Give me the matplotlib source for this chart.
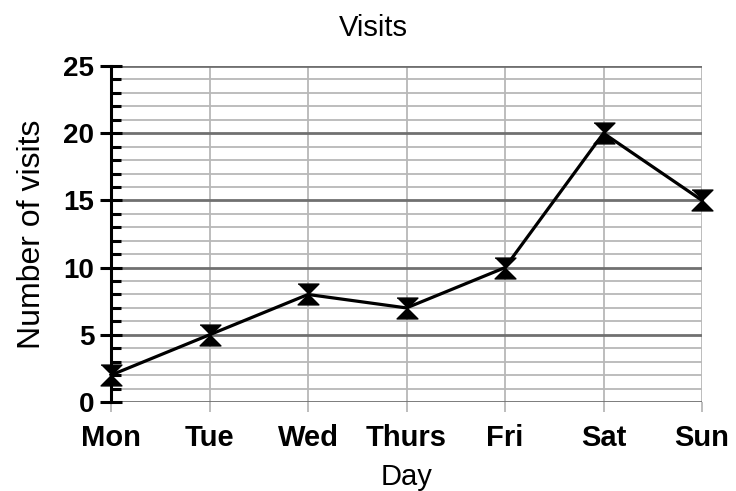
import matplotlib
matplotlib.use("Agg")
import matplotlib.pyplot as plt
from matplotlib.ticker import MultipleLocator

days = ["Mon", "Tue", "Wed", "Thurs", "Fri", "Sat", "Sun"]
visits = [2, 5, 8, 7, 10, 20, 15]
y_ticks = [0, 5, 10, 15, 20, 25]

plt.rcParams["font.family"] = ["Liberation Sans", "DejaVu Sans"]

fig = plt.figure(figsize=(7.36, 4.91), dpi=100)
ax = fig.add_axes([111 / 736, 1 - 402 / 491, (702 - 111) / 736, (402 - 66) / 491])

x = list(range(len(days)))

# hourglass marker: two triangles meeting at the data point
hourglass = [(-1, 1), (1, 1), (0, 0), (1, -1), (-1, -1), (0, 0)]
ax.plot(x, visits, color="black", linewidth=2.3, marker=hourglass,
        markersize=15, markerfacecolor="black", markeredgecolor="black",
        zorder=5, clip_on=False)

ax.set_xlim(0, len(days) - 1)
ax.set_ylim(0, 25)
ax.set_xticks(x)
ax.set_xticklabels(days, fontsize=21, fontweight="bold")
ax.set_yticks(y_ticks)
ax.set_yticklabels([str(v) for v in y_ticks], fontsize=20, fontweight="bold")
ax.yaxis.set_minor_locator(MultipleLocator(1))

# grid
ax.grid(True, which="major", axis="y", color="#707070", linewidth=2.0, zorder=1)
ax.grid(True, which="minor", axis="y", color="#b8b8b8", linewidth=1.3, zorder=0)
ax.grid(True, which="major", axis="x", color="#b8b8b8", linewidth=1.3, zorder=0)
ax.set_axisbelow(True)

for side in ["top", "right", "bottom"]:
    ax.spines[side].set_visible(False)
ax.spines["left"].set_linewidth(2.2)
ax.spines["left"].set_color("black")

ax.tick_params(axis="y", which="major", direction="inout", length=16, width=2.2,
               color="black", pad=4)
ax.tick_params(axis="y", which="minor", direction="in", length=7, width=2.2,
               color="black")
ax.tick_params(axis="x", which="major", direction="out", length=7, width=1.3,
               color="#b8b8b8", pad=9)

ax.set_xlabel("Day", fontsize=21, labelpad=8)
ax.set_ylabel("Number of visits", fontsize=23, labelpad=12)
fig.text(0.507, 0.943, "Visits", fontsize=21, ha="center", va="center")

fig.savefig("out.png", dpi=100)
